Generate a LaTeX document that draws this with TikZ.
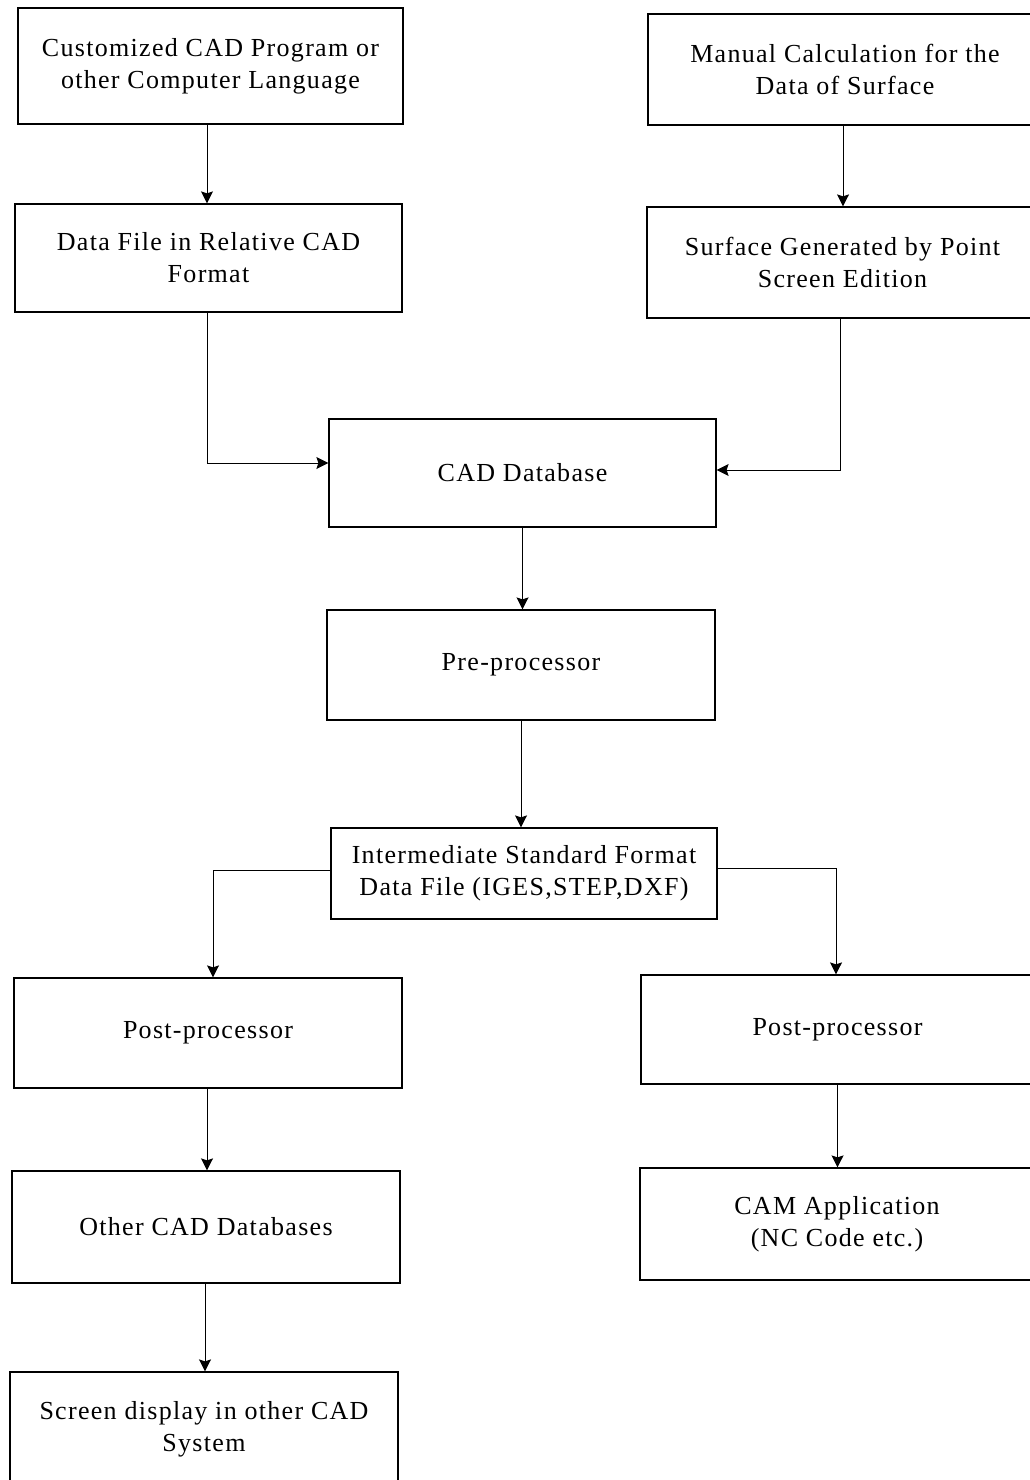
\documentclass[tikz,border=0pt]{standalone}
\usepackage{fontspec}
\setmainfont{Liberation Serif}[LetterSpace=5]
\usetikzlibrary{arrows.meta}
\begin{document}
\begin{tikzpicture}[x=1pt,y=-1pt,
  box/.style={draw, line width=1.2pt, align=center, inner sep=0pt,
    font=\fontsize{26}{32}\selectfont},
  conn/.style={line width=1pt, -{Stealth[length=12pt,width=12pt,inset=2pt]}}]
\useasboundingbox (0,0) rectangle (1030,1480);
\clip (0,0) rectangle (1030,1480);
\node[box, minimum width=385pt, minimum height=116pt] (c1) at (210.5,66) {Customized CAD Program or\\other Computer Language};
\node[box, minimum width=386pt, minimum height=111pt] (c2) at (841,69.5) {\hspace*{8pt}Manual Calculation for the\\\hspace*{8pt}Data of Surface};
\node[box, minimum width=387pt, minimum height=108pt] (c3) at (208.5,258) {Data File in Relative CAD\\Format};
\node[box, minimum width=387pt, minimum height=111pt] (c4) at (840.5,262.5) {\hspace*{4pt}Surface Generated by Point\\\hspace*{4pt}Screen Edition};
\node[box, minimum width=387pt, minimum height=108pt] (c5) at (522.5,473) {CAD Database};
\node[box, minimum width=388pt, minimum height=110pt] (c6) at (521,665) {Pre-processor};
\node[box, minimum width=386pt, minimum height=91pt] (c7) at (524,873.5) {Intermediate Standard Format\\Data File (IGES,STEP,DXF)};
\node[box, minimum width=388pt, minimum height=110pt] (c8) at (208,1033) {Post-processor};
\node[box, minimum width=393pt, minimum height=109pt] (c9) at (837.5,1029.5) {Post-processor};
\node[box, minimum width=388pt, minimum height=112pt] (c10) at (206,1227) {Other CAD Databases};
\node[box, minimum width=394pt, minimum height=112pt] (c11) at (837,1224) {CAM Application\\(NC Code etc.)};
\node[box, minimum width=388pt, minimum height=114pt] (c12) at (204,1429) {Screen display in other CAD\\System};
\draw[conn] ([xshift=-1.5pt]c3.north |- c1.south) -- ([xshift=-1.5pt]c3.north);
\draw[conn] ([xshift=2.5pt]c4.north |- c2.south) -- ([xshift=2.5pt]c4.north);
\draw[conn] ([xshift=-1.5pt]c3.south) |- ([yshift=10pt]c5.west);
\draw[conn] (c4.south) |- ([yshift=3pt]c5.east);
\draw[conn] (c5.south) -- (c5.south |- c6.north);
\draw[conn] (c6.south) -- (c6.south |- c7.north);
\draw[conn] ([yshift=3pt]c7.west) -| ([xshift=5pt]c8.north);
\draw[conn] ([yshift=5pt]c7.east) -| ([xshift=-1.5pt]c9.north);
\draw[conn] ([xshift=-1pt]c8.south) -- ([xshift=-1pt]c8.south |- c10.north);
\draw[conn] (c9.south) -- (c9.south |- c11.north);
\draw[conn] ([xshift=-1pt]c10.south) -- ([xshift=-1pt]c10.south |- c12.north);
\end{tikzpicture}
\end{document}
